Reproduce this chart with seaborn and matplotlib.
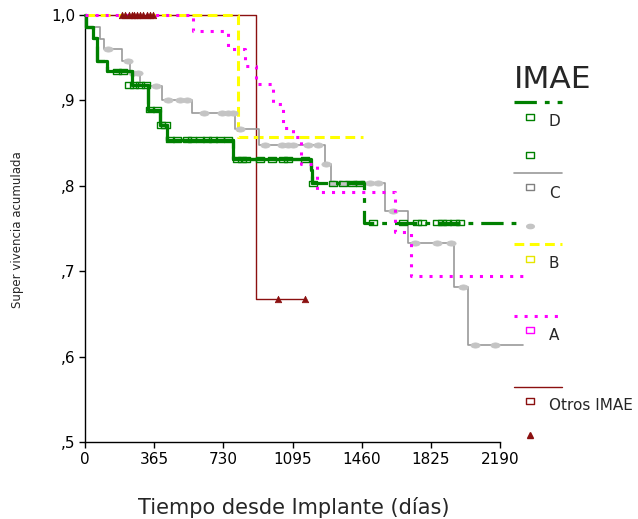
import numpy as np
import pandas as pd
import seaborn as sns
import matplotlib
matplotlib.use("Agg")
import matplotlib.pyplot as plt
from matplotlib.lines import Line2D
from matplotlib.path import Path

# ---------------- data ----------------
x_ticks = [0, 365, 730, 1095, 1460, 1825, 2190]
y_ticks = [0.5, 0.6, 0.7, 0.8, 0.9, 1.0]
y_tick_labels = [",5", ",6", ",7", ",8", ",9", "1,0"]

# IMAE D
d_time = [0, 3, 41, 62, 115, 246, 334, 396, 434, 783, 1191, 1198, 1472, 2311]
d_surv = [1.0, 0.986, 0.973, 0.946, 0.934, 0.918, 0.889, 0.871, 0.854, 0.831, 0.818, 0.803, 0.757, 0.757]
d_cens_time = [170, 200, 232, 260, 290, 320, 345, 380, 400, 425,
               449, 485, 538, 565, 607, 644, 676, 712, 755,
               800, 830, 850, 925, 985, 1045, 1070, 1160,
               1205, 1309, 1362, 1410, 1452,
               1520, 1680, 1750, 1780, 1860, 1885, 1910, 1950, 1980]
d_cens_surv = [0.934, 0.934, 0.918, 0.918, 0.918, 0.918, 0.889, 0.889, 0.871, 0.871,
               0.854, 0.854, 0.854, 0.854, 0.854, 0.854, 0.854, 0.854, 0.854,
               0.831, 0.831, 0.831, 0.831, 0.831, 0.831, 0.831, 0.831,
               0.803, 0.803, 0.803, 0.803, 0.803,
               0.757, 0.757, 0.757, 0.757, 0.757, 0.757, 0.757, 0.757, 0.757]

# IMAE C
c_time = [0, 5, 79, 100, 193, 237, 290, 405, 563, 792, 920, 1266, 1297, 1583, 1703, 1947, 2023, 2313]
c_surv = [1.0, 0.986, 0.972, 0.960, 0.946, 0.932, 0.917, 0.901, 0.885, 0.866, 0.848, 0.825, 0.803,
          0.771, 0.733, 0.682, 0.613, 0.613]
c_cens_time = [123, 227, 255, 280, 375, 438, 501, 538, 628, 723, 755, 781, 818,
               950, 1040, 1071, 1098, 1177, 1230, 1272,
               1309, 1346, 1383, 1425, 1462, 1504, 1546, 1625,
               1741, 1858, 1932, 1995, 2058, 2164]
c_cens_surv = [0.960, 0.946, 0.932, 0.932, 0.917, 0.901, 0.901, 0.901, 0.885, 0.885, 0.885, 0.885, 0.866,
               0.848, 0.848, 0.848, 0.848, 0.848, 0.848, 0.825,
               0.803, 0.803, 0.803, 0.803, 0.803, 0.803, 0.803, 0.771,
               0.733, 0.733, 0.733, 0.682, 0.613, 0.613]

# IMAE B
b_time = [0, 805, 1467]
b_surv = [1.0, 0.857, 0.857]

# IMAE A
a_time = [0, 568, 757, 845, 902, 992, 1047, 1100, 1140, 1223, 1636, 1718, 2311]
a_surv = [1.0, 0.981, 0.960, 0.940, 0.919, 0.896, 0.868, 0.857, 0.826, 0.793, 0.746, 0.694, 0.694]

# Otros IMAE
o_time = [0, 902, 1161]
o_surv = [1.0, 0.667, 0.667]
o_cens_time = [195, 211, 232, 248, 259, 274, 290, 306, 327, 343, 359, 1018, 1161]
o_cens_surv = [1.0] * 11 + [0.667, 0.667]

# ---------------- style ----------------
GREEN = "#008000"
GRAY_LINE = "#9a9a9a"
GRAY_MK = "#c4c4c4"
YELLOW = "#ffff00"
MAGENTA = "#ff00ff"
DARKRED = "#8b1010"

sns.set_theme(style="white")
plt.rcParams["font.family"] = ["DejaVu Sans"]

W, H = 638, 519
fig = plt.figure(figsize=(W / 100, H / 100), dpi=100)
ax = fig.add_axes([85 / W, 1 - 442 / H, (500 - 85) / W, (442 - 15) / H])

rect = Path([(-0.75, -0.5), (0.75, -0.5), (0.75, 0.5), (-0.75, 0.5), (-0.75, -0.5)],
            [Path.MOVETO, Path.LINETO, Path.LINETO, Path.LINETO, Path.CLOSEPOLY])
th = np.linspace(0, 2 * np.pi, 40)
ell = Path(np.column_stack([0.8 * np.cos(th), 0.45 * np.sin(th)]))


def km_line(tt, ss, **kw):
    df = pd.DataFrame({"t": tt, "s": ss})
    sns.lineplot(data=df, x="t", y="s", ax=ax, drawstyle="steps-post",
                 estimator=None, errorbar=None, sort=False, clip_on=False, **kw)


def cens(tt, ss, **kw):
    df = pd.DataFrame({"t": tt, "s": ss})
    sns.scatterplot(data=df, x="t", y="s", ax=ax, clip_on=False, **kw)


# Otros IMAE
km_line(o_time, o_surv, color=DARKRED, linewidth=1.0, zorder=2)
# B
km_line(b_time, b_surv, color=YELLOW, linewidth=2.2, linestyle=(0, (3.2, 1.8)), zorder=3)
# C
km_line(c_time, c_surv, color=GRAY_LINE, linewidth=1.2, zorder=3)
cens(c_cens_time, c_cens_surv, marker=ell, s=45, color=GRAY_MK, edgecolor=GRAY_MK, linewidth=0.5, zorder=4)
# D
km_line(d_time, d_surv, color=GREEN, linewidth=2.3, linestyle=(0, (7, 2.5, 1.5, 2.5)), zorder=5)
solid_n = 12
km_line(d_time[:solid_n], d_surv[:solid_n], color=GREEN, linewidth=2.3, zorder=5)
cens(d_cens_time, d_cens_surv, marker=rect, s=34, facecolors="none", edgecolor=GREEN,
     linewidth=1.0, zorder=6)
# A
km_line(a_time, a_surv, color=MAGENTA, linewidth=2.2, linestyle=(0, (1, 2.3)), zorder=7)
# Otros censored
cens(o_cens_time, o_cens_surv, marker="^", s=22, color=DARKRED, edgecolor=DARKRED, linewidth=0.5, zorder=8)

# ---------------- axes ----------------
ax.set_xlim(0, 2190)
ax.set_ylim(0.5, 1.0)
ax.set_xticks(x_ticks)
ax.set_xticklabels([str(v) for v in x_ticks], fontsize=11)
ax.set_yticks(y_ticks)
ax.set_yticklabels(y_tick_labels, fontsize=11)
for side in ["top", "right"]:
    ax.spines[side].set_visible(False)
for side in ["left", "bottom"]:
    ax.spines[side].set_color("black")
    ax.spines[side].set_linewidth(1.0)
ax.tick_params(axis="both", which="major", direction="out", length=4.5, width=1.0,
               color="black", bottom=True, left=True, pad=2.5, labelcolor="black")
ax.set_xlabel("")
ax.set_ylabel("")
ax.grid(False)

fig.text(294 / W, 1 - 508 / H, "Tiempo desde Implante (días)", ha="center", va="center", fontsize=15)
fig.text(18 / W, 1 - 230 / H, "Super vivencia acumulada", ha="center", va="center",
         rotation=90, fontsize=8.5)

# ---------------- legend (manual, pixel-placed) ----------------
def fx(x):
    return x / W


def fy(y):
    return 1 - y / H


fig.text(fx(514), fy(80), "IMAE", ha="left", va="center", fontsize=22.5)


def leg_line(y, **kw):
    fig.add_artist(Line2D([fx(514), fx(562)], [fy(y), fy(y)], transform=fig.transFigure, **kw))


def leg_mark(y, **kw):
    fig.add_artist(Line2D([fx(530)], [fy(y)], transform=fig.transFigure, linestyle="none", **kw))


def leg_text(x, y, s):
    fig.text(fx(x), fy(y), s, ha="left", va="center", fontsize=11)


sq = dict(marker=rect, markersize=5.5, markerfacecolor="none", markeredgewidth=1.0)
leg_line(102, color=GREEN, linewidth=2.3, linestyle=(0, (7, 2.5, 1.5, 2.5)))
leg_mark(117, markeredgecolor=GREEN, **sq)
leg_text(549, 122, "D")
leg_mark(155, markeredgecolor=GREEN, **sq)
leg_line(173, color=GRAY_LINE, linewidth=1.2)
leg_mark(187, markeredgecolor="#808080", **sq)
leg_text(549, 193, "C")
leg_mark(226, marker=ell, markersize=5.5, markerfacecolor=GRAY_MK, markeredgecolor=GRAY_MK)
leg_line(244, color=YELLOW, linewidth=2.2, linestyle=(0, (3.2, 1.8)))
leg_mark(259, markeredgecolor="#e6e600", **sq)
leg_text(549, 264, "B")
leg_line(316, color=MAGENTA, linewidth=2.2, linestyle=(0, (1, 2.3)))
leg_mark(330, markeredgecolor=MAGENTA, **sq)
leg_text(549, 336, "A")
leg_line(387, color=DARKRED, linewidth=1.0)
leg_mark(401, markeredgecolor=DARKRED, **sq)
leg_text(549, 406, "Otros IMAE")
leg_mark(435, marker="^", markersize=5, markerfacecolor=DARKRED, markeredgecolor=DARKRED)

fig.savefig("out.png", dpi=100)
